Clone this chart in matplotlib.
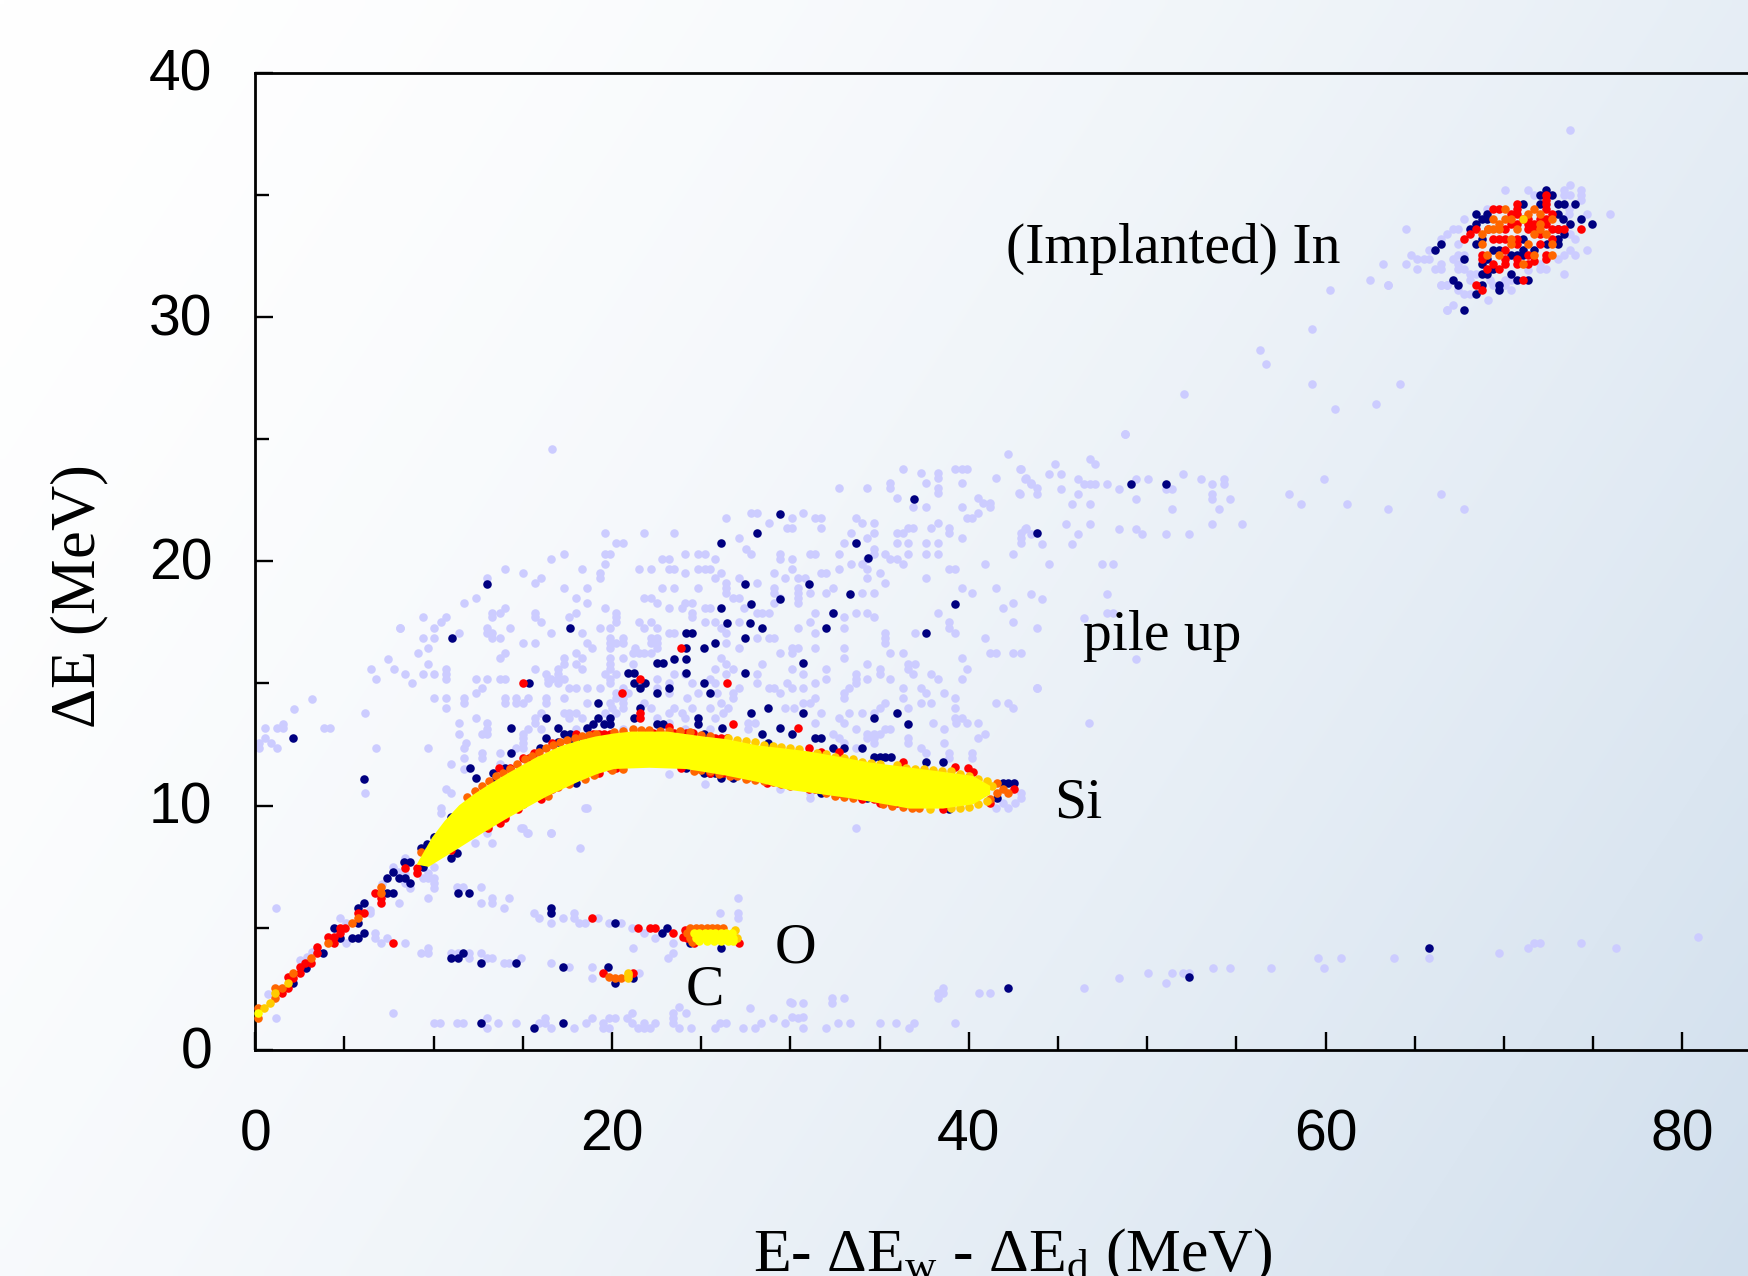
import numpy as np
import matplotlib
matplotlib.use("Agg")
from matplotlib import pyplot as plt
from matplotlib.transforms import ScaledTranslation

plt.rcParams["mathtext.fontset"] = "custom"
plt.rcParams["mathtext.rm"] = "Liberation Serif"
plt.rcParams["mathtext.default"] = "rm"

W, H = 1749, 1276
X0, Y0, Y40 = 255.2, 1050.0, 72.5
XMAX = (W - X0) / 17.84

# pale counts, big pile-up cloud: (dE, [E values])
cloud_rows = [
    (24.58, [16.63]), (24.4, [42.2]), (23.77, [36.3, 39.2, 39.6, 39.9, 42.9]), (23.6, [37.3, 38.3]),
    (23.4, [38.3, 41.5, 43.2]), (23.2, [35.6, 37.6, 39.6, 43.5]), (23.0, [32.7, 34.3, 35.6, 38.3, 43.8]),
    (22.8, [38.3, 42.8]), (22.6, [36.0, 40.5]), (22.4, [40.8, 41.2]), (22.2, [36.9, 37.6, 39.6, 41.2]),
    (21.96, [27.8, 28.1, 30.7, 40.5]), (21.75, [26.4, 30.1, 31.4, 31.7, 33.7, 39.9, 40.2]),
    (21.55, [28.8, 34.0, 34.7, 38.3]), (21.35, [29.8, 30.1, 31.7, 36.6, 36.9, 37.9, 38.9, 43.2]),
    (21.14, [19.6, 21.8, 23.5, 33.4, 34.7, 36.0, 36.3, 38.9, 42.9]), (20.94, [27.1, 34.3, 39.6, 42.9]),
    (20.73, [20.2, 20.6, 33.0, 33.7, 36.0, 36.6, 37.6, 38.3, 42.9]), (20.5, [27.5, 34.7]),
    (20.3, [17.3, 19.6, 19.9, 24.1, 24.8, 25.2, 27.8, 29.4, 31.1, 31.4, 32.7, 34.7, 35.3, 36.6, 37.6, 38.3, 42.5]),
    (20.1, [16.6, 22.8, 23.2, 25.8, 29.4, 30.1, 34.3, 36.0, 35.6]), (19.9, [19.6, 33.4, 34.0, 36.3, 40.9]),
    (19.7, [14.0, 18.3, 21.5, 22.2, 23.2, 23.5, 24.8, 25.2, 25.5, 30.1, 32.7, 34.3, 39.2, 38.9]),
    (19.5, [15.0, 19.3, 24.1, 26.1, 29.1, 31.7, 32.0, 35.0]),
    (19.3, [13.0, 16.0, 19.3, 25.8, 27.1, 29.7, 30.4, 30.8, 34.3, 37.6]), (19.1, [15.7, 26.4, 28.1, 35.3]),
    (18.9, [17.3, 18.6, 22.8, 23.5, 24.8, 26.4, 29.1, 30.4, 32.4, 39.6, 41.5]),
    (18.7, [26.4, 29.1, 30.4, 31.1, 32.0, 34.0, 34.7, 40.2]),
    (18.5, [12.4, 18.0, 22.2, 21.8, 26.8, 27.1, 29.4, 30.4]),
    (18.3, [11.7, 18.6, 22.5, 24.1, 24.5, 29.1, 30.4, 42.5]),
    (18.1, [14.0, 19.6, 23.2, 23.9, 25.2, 25.5, 27.4, 41.9]),
    (17.9, [13.3, 13.7, 15.7, 18.0, 20.2, 24.5, 31.4, 32.4, 33.7, 34.3, 38.3, 28.1, 28.4, 28.8]),
    (17.7, [9.4, 10.7, 13.3, 15.7, 17.6, 20.2, 24.5, 33.0, 34.7]),
    (17.5, [10.4, 16.0, 20.2, 21.5, 22.2, 25.2, 25.8, 27.1, 31.1, 38.9, 42.5]),
    (17.25, [8.1, 10.0, 13.0, 14.3, 19.3, 19.9, 21.8, 22.5, 26.1, 30.4, 33.0, 38.9, 43.8]),
    (17.05, [11.4, 13.0, 13.3, 16.6, 18.3, 23.2, 23.5, 26.4, 31.4, 35.3, 37.0, 39.2]),
    (16.85, [9.4, 10.0, 13.3, 13.7, 22.2, 22.5, 19.9, 20.6, 28.1, 28.8, 29.1, 35.3, 40.9]),
    (16.65, [15.0, 15.7, 18.6, 19.9, 20.2, 20.6, 22.2, 22.5, 26.4, 35.3]),
    (16.45, [9.7, 18.9, 19.9, 21.3, 22.5, 27.1, 31.4, 33.0, 30.1, 30.4]),
    (16.25, [9.1, 14.0, 18.0, 21.2, 21.5, 21.8, 22.2, 29.4, 30.1, 35.6, 36.3, 41.2, 41.5, 42.5, 42.9]),
    (16.05, [13.7, 17.3, 18.3, 19.9, 20.6, 26.1, 33.0, 39.6]),
    (15.8, [9.7, 17.3, 18.0, 19.9, 21.2, 26.4, 28.4, 34.3, 36.6, 37.0]),
    (15.6, [10.7, 15.7, 17.0, 18.3, 19.9, 25.8, 26.8, 30.1, 32.0, 35.0, 36.6, 39.9]),
    (15.4, [8.4, 9.4, 10.0, 10.7, 16.3, 17.0, 19.6, 20.2, 23.5, 24.1, 26.4, 28.1, 30.7, 33.7, 35.0, 36.9, 37.9]),
    (15.2, [10.7, 12.4, 13.0, 13.7, 14.0, 16.4, 16.6, 17.0, 17.3, 19.9, 22.5, 25.5, 32.0, 33.7, 34.3, 35.6, 38.3, 39.6]),
    (15.0, [8.8, 16.4, 17.0, 19.9, 23.2, 24.5, 25.8, 28.1, 29.8, 31.4, 33.7]),
    (14.8, [12.7, 17.6, 18.0, 18.6, 19.3, 20.6, 22.5, 27.1, 28.8, 29.1, 30.1, 30.7, 33.3, 36.3, 37.3, 43.8]),
    (14.6, [12.4, 20.2, 20.9, 23.2, 24.8, 25.9, 26.8, 29.4, 33.0, 37.6, 38.6]),
    (14.4, [10.0, 10.7, 11.7, 14.0, 14.6, 15.3, 16.3, 17.3, 20.2, 20.6, 24.2, 26.8, 31.4, 33.0, 36.3, 39.2]),
    (14.2, [11.7, 14.0, 14.6, 15.0, 16.3, 18.6, 19.9, 20.6, 21.8, 26.1, 30.7, 31.1, 35.3, 37.3, 37.9, 41.5, 42.2]),
    (14.0, [10.7, 20.0, 20.6, 22.2, 23.5, 24.5, 25.5, 26.5, 29.7, 30.2, 35.0, 36.6, 39.2, 42.5]),
    (13.8, [16.0, 17.3, 17.6, 18.0, 19.6, 20.2, 23.2, 23.9, 26.2, 31.7, 33.3, 34.0, 34.7]),
    (13.6, [12.4, 15.7, 17.6, 18.3, 22.5, 24.1, 25.8, 32.7, 39.6, 39.2]),
    (13.4, [11.4, 13.0, 15.7, 19.6, 23.2, 27.6, 28.0, 31.4, 33.0, 38.0, 39.3, 39.9, 40.5]),
    (13.15, [13.0, 15.3, 16.0, 18.0, 18.6, 20.6, 24.1, 25.5, 27.6, 33.7, 35.3, 35.6, 38.6]),
    (12.95, [11.4, 12.7, 13.0, 15.0, 32.4, 34.3, 34.7, 35.0, 40.9]), (12.75, [15.0, 32.7, 34.3, 34.7, 36.6, 40.5]),
    (12.55, [11.8, 15.0, 33.0, 34.7, 36.6, 38.6]), (12.35, [9.7, 11.7, 14.6, 15.0, 33.7, 37.3]),
    (12.15, [12.7, 13.7, 37.6, 38.9, 40.2]), (11.95, [11.7, 12.7, 38.9, 40.2]), (11.7, [11.0, 13.7]),
    (11.5, [11.7]), (11.3, [23.2]), (10.9, [25.2]), (10.7, [10.7, 29.4]), (10.5, [11.0, 31.1, 42.9]),
    (10.3, [31.1, 42.9]), (10.1, [41.9, 42.6]), (9.9, [18.6, 10.4, 41.5, 42.2]), (9.7, [10.4]), (9.1, [15.0, 33.7]), (8.9, [15.3, 16.6]),
]

# pale counts, the far side of the cloud and the stragglers towards In
cloud_right = [
    (48.76, 25.2), (42.87, 23.77), (44.81, 23.98), (46.8, 24.18), (47.1, 23.98), (44.5, 23.58), (45.15, 23.58),
    (43.15, 23.38), (43.5, 23.17), (46.1, 23.38), (46.46, 23.17), (46.8, 23.17), (47.1, 23.17), (47.77, 23.17),
    (48.42, 22.97), (49.4, 23.38), (50.07, 23.38), (51.04, 22.97), (51.4, 22.97), (52.0, 23.58), (53.0, 23.38),
    (53.65, 23.17), (54.33, 23.38), (54.33, 23.17), (59.9, 23.38), (57.94, 22.76), (58.6, 22.36), (61.2, 22.36),
    (63.5, 22.15), (66.46, 22.76), (67.77, 22.15), (42.87, 22.76), (43.8, 22.76), (45.15, 22.97), (46.1, 22.76),
    (45.8, 22.36), (46.8, 22.36), (49.4, 22.56), (51.4, 22.15), (53.65, 22.76), (53.65, 22.56), (54.65, 22.56),
    (54.0, 22.15), (45.47, 21.54), (46.8, 21.54), (48.42, 21.33), (49.4, 21.33), (49.73, 21.13), (51.04, 21.13),
    (52.37, 21.13), (53.65, 21.54), (55.3, 21.54), (43.15, 21.33), (43.5, 21.13), (46.1, 21.13), (44.12, 20.72),
    (45.8, 20.72), (44.5, 19.9), (47.45, 19.9), (48.08, 19.9), (43.5, 18.67), (44.12, 18.47), (47.77, 18.67),
    (47.77, 17.87), (48.08, 17.87), (46.46, 17.66), (43.8, 14.8), (46.75, 13.4), (49.4, 16.0),
    (60.25, 31.1), (59.24, 29.5), (56.3, 28.66), (56.64, 28.08), (59.24, 27.24), (64.16, 27.24), (62.85, 26.42),
    (60.55, 26.23), (52.05, 26.83), (48.74, 25.2), (63.5, 31.32), (62.5, 31.5),
]

# pale counts, left edge
cloud_left = [
    (8.1, 17.25), (7.46, 16.02), (6.47, 15.61), (7.78, 15.61), (6.79, 15.2), (3.2, 14.38), (2.2, 13.97), (6.17, 13.77),
    (1.55, 13.36), (0.56, 13.16), (1.2, 13.16), (1.55, 13.16), (3.85, 13.16), (4.19, 13.16), (0.56, 12.75), (0.88, 12.55),
    (0.22, 12.55), (0.22, 12.34), (1.2, 12.34), (6.79, 12.34), (6.17, 10.5),
]

# pale counts, below the Si band: diagonal, O and C streaks, bottom row
pale_low = [
    (18.5, 9.9), (18.2, 8.25), (14.9, 9.1), (15.25, 8.87), (16.6, 8.87), (12.3, 8.46), (12.97, 8.87), (13.3, 8.46),
    (8.37, 7.87), (7.7, 7.48), (10.0, 7.48), (9.7, 7.26), (9.4, 7.05), (9.7, 7.05), (10.0, 7.05), (10.0, 6.85), (10.0, 6.62),
    (8.4, 6.82), (8.7, 6.62), (8.05, 6.03), (9.67, 6.22), (11.3, 6.66), (11.67, 6.66), (12.65, 6.66), (12.65, 6.03),
    (13.3, 6.22), (13.3, 6.03), (14.25, 6.22), (13.93, 5.83), (1.14, 5.83), (4.76, 5.4), (5.1, 5.18), (6.45, 5.6),
    (6.7, 4.77), (6.7, 4.6), (7.07, 4.39), (7.4, 4.6), (8.37, 4.39), (5.1, 4.39), (9.67, 4.19), (9.3, 3.98), (9.67, 3.98),
    (11.0, 3.98), (11.35, 3.98), (12.0, 3.98), (12.0, 3.78), (12.65, 3.98), (12.97, 3.78), (13.3, 3.78), (13.93, 3.57),
    (14.25, 3.57), (14.9, 3.78), (16.58, 3.57), (17.6, 3.38), (18.88, 3.38), (18.88, 2.96), (21.5, 3.16),
    (15.6, 5.62), (15.92, 5.4), (17.24, 5.4), (17.88, 5.62), (17.88, 5.4), (18.16, 5.18), (18.5, 5.18), (19.2, 5.4),
    (19.82, 5.18), (20.5, 5.18), (21.1, 5.0), (21.8, 4.8), (22.42, 4.6), (23.44, 4.39), (21.16, 4.19), (23.44, 3.98),
    (23.14, 3.78), (27.07, 6.22), (26.07, 5.62), (27.07, 5.62), (27.07, 5.4), (16.58, 5.18),
    (0.7, 2.3), (2.9, 3.82), (3.2, 4.02), (6.43, 5.73), (8.0, 7.3), (8.4, 7.2), (7.1, 6.8), (2.5, 3.7),
    (7.7, 1.53), (1.14, 1.32), (10.0, 1.12), (10.35, 1.12), (11.3, 1.12), (11.67, 1.12), (12.97, 1.32), (12.97, 0.91),
    (13.6, 1.12), (14.6, 1.12), (15.9, 1.12), (16.24, 1.32), (16.24, 1.12), (16.58, 0.91), (17.86, 0.91), (18.52, 1.12),
    (18.88, 1.32), (19.52, 1.12), (19.82, 1.32), (20.16, 1.32), (19.52, 0.91), (19.82, 0.91), (20.82, 1.32), (21.12, 1.12),
    (21.12, 1.53), (21.48, 0.91), (21.82, 1.12), (21.82, 0.91), (22.12, 0.91), (22.42, 1.12), (23.44, 1.53), (23.44, 1.32),
    (23.44, 1.12), (23.76, 1.77), (24.12, 1.53), (23.76, 0.91), (24.42, 0.91), (25.77, 0.91), (26.07, 1.12), (26.4, 1.12),
    (27.37, 0.91), (28.0, 0.91), (28.37, 1.12), (27.73, 1.73), (29.03, 1.32), (29.7, 1.12), (30.0, 1.98), (30.4, 1.32),
    (30.07, 1.94), (30.71, 1.94), (32.35, 2.14), (32.35, 1.94), (33.0, 2.14), (30.07, 1.33), (30.71, 1.33), (30.71, 0.92),
    (32.0, 0.92), (32.69, 1.12), (33.33, 1.12), (35.0, 1.12), (35.94, 1.12), (36.62, 0.92), (36.95, 1.12), (39.25, 1.12),
    (38.26, 2.35), (38.26, 2.14), (38.58, 2.55), (38.58, 2.35), (40.56, 2.35), (41.2, 2.35), (46.44, 2.55), (48.42, 2.96),
    (50.05, 3.17), (51.04, 2.76), (51.39, 3.17), (52.03, 3.17), (52.36, 3.17), (53.67, 3.37), (54.66, 3.37), (56.93, 3.37),
    (59.59, 3.77), (59.91, 3.37), (60.87, 3.77), (63.82, 3.77), (65.77, 3.77), (69.74, 3.97), (71.37, 4.17), (71.69, 4.39),
    (72.04, 4.39), (74.32, 4.39), (76.3, 4.17), (80.9, 4.61),
]

# pale counts around the In blob
pale_in = [
    (73.7, 37.65), (70.06, 35.2), (71.37, 35.2), (73.37, 35.2), (73.69, 35.4), (74.3, 35.2), (74.3, 35.0), (73.69, 35.0),
    (73.37, 35.0), (74.3, 34.8), (71.7, 35.0), (69.03, 34.4), (74.64, 34.2), (75.95, 34.2), (67.78, 34.0), (73.67, 34.2),
    (73.67, 34.4), (67.12, 33.6), (67.44, 33.6), (64.5, 33.6), (66.79, 33.4), (66.47, 33.2), (73.7, 33.4), (74.0, 33.2),
    (65.8, 32.75), (67.44, 33.0), (64.8, 32.55), (65.1, 32.35), (65.5, 32.35), (65.8, 32.35), (67.44, 32.55), (67.78, 32.55),
    (67.12, 32.35), (73.7, 32.75), (74.0, 32.55), (74.64, 32.75), (73.37, 32.55), (73.05, 32.35), (63.2, 32.15), (64.5, 32.15),
    (66.45, 32.15), (67.44, 32.15), (65.1, 31.95), (66.13, 31.95), (66.47, 31.95), (67.44, 31.95), (67.78, 31.95), (72.02, 32.15),
    (72.02, 31.95), (72.36, 31.95), (73.37, 31.75), (68.1, 31.75), (68.43, 31.75), (68.1, 31.5), (66.47, 31.3), (66.79, 31.3),
    (67.44, 31.1), (67.78, 30.95), (68.1, 30.95), (63.5, 31.3), (69.09, 30.7), (70.06, 31.3), (70.38, 31.1), (67.12, 30.5),
    (66.79, 30.3), (69.2, 31.5), (69.4, 31.3), (70.06, 31.5), (70.38, 31.5), (71.37, 31.9),
    (66.46, 31.32), (66.78, 31.32), (66.78, 30.3),
]

navy_main = [
    (29.42, 21.93), (36.95, 22.56), (43.8, 21.14), (28.1, 21.14), (26.13, 20.73), (33.68, 20.73), (34.34, 20.12), (13.02, 19.07),
    (27.43, 19.07), (31.05, 19.07), (33.34, 18.67), (29.42, 18.47), (27.78, 18.27), (39.24, 18.27), (26.13, 18.07), (32.38, 17.87),
    (26.43, 17.46), (27.75, 17.46), (28.42, 17.25), (32.0, 17.25), (17.62, 17.25), (11.05, 16.86), (24.16, 17.05), (24.5, 17.05),
    (37.6, 17.05), (27.43, 16.86), (25.8, 16.64), (24.16, 16.43), (25.14, 16.43), (23.5, 16.02), (24.16, 16.02), (22.54, 15.82),
    (22.86, 15.82), (30.73, 15.82), (24.16, 15.41), (27.43, 15.41), (20.89, 15.41), (21.23, 15.41), (21.23, 15.0), (21.87, 15.0),
    (21.55, 14.8), (15.35, 15.0), (25.14, 15.0), (23.18, 14.8), (22.51, 14.6), (25.47, 14.6), (19.24, 14.18), (21.55, 13.98),
    (28.76, 13.98), (27.78, 13.77), (30.73, 13.77), (34.66, 13.57), (35.97, 13.77), (36.61, 13.36), (16.29, 13.57), (19.24, 13.57),
    (19.9, 13.57), (21.23, 13.57), (24.82, 13.57), (22.54, 13.36), (22.86, 13.36), (19.9, 13.36), (19.56, 13.36), (18.92, 13.36),
    (24.82, 13.36), (14.32, 13.16), (16.98, 13.16), (18.6, 13.16), (26.15, 13.16), (29.42, 13.16), (17.32, 12.95), (17.64, 12.95),
    (30.09, 12.95), (28.42, 12.95), (25.17, 12.95), (16.29, 12.75), (31.4, 12.75), (31.7, 12.75), (17.0, 12.6), (17.64, 12.6),
    (17.96, 12.6), (28.76, 12.57), (15.99, 12.37), (32.38, 12.37), (33.02, 12.37), (34.0, 12.37), (14.32, 12.14), (34.66, 11.97),
    (35.0, 11.97), (35.3, 11.97), (35.63, 11.97), (37.6, 11.77), (38.58, 11.77), (12.03, 11.52), (13.34, 11.35), (12.35, 11.14),
    (13.34, 10.98), (14.0, 11.52), (24.14, 11.52), (25.14, 11.35), (25.47, 11.35), (25.8, 11.35), (26.13, 11.11), (26.77, 11.11),
    (17.96, 10.91), (31.71, 10.5), (34.0, 10.3), (34.32, 10.3), (41.9, 10.91), (42.2, 10.91), (42.56, 10.91), (41.6, 10.3),
    (38.9, 9.88), (12.0, 10.16), (11.0, 9.55), (10.06, 8.73), (49.1, 23.17), (51.06, 23.17), (2.14, 12.76), (6.09, 11.1),
]
navy_low = [
    (9.3, 8.25), (9.65, 8.45), (10.0, 8.7), (8.35, 7.68), (8.7, 7.68), (7.7, 7.27), (7.4, 7.05), (8.05, 7.05), (8.37, 7.05),
    (8.7, 6.85), (9.4, 7.48), (11.3, 8.08), (11.0, 7.85), (11.35, 6.44), (12.0, 6.44), (7.4, 6.44), (7.7, 6.44), (6.09, 6.03),
    (5.77, 5.83), (5.77, 5.18), (4.42, 5.0), (4.78, 4.6), (5.43, 4.6), (5.77, 4.6), (6.09, 4.8), (3.8, 3.98), (2.82, 3.34),
    (2.14, 2.73), (16.58, 5.83), (16.58, 5.6), (20.16, 5.18), (22.82, 4.8), (23.1, 5.0), (24.4, 4.37), (26.1, 4.16), (11.0, 3.78),
    (11.35, 3.78), (11.67, 3.98), (12.65, 3.57), (14.6, 3.57), (17.26, 3.38), (19.8, 3.38), (20.16, 2.73), (21.2, 2.93),
    (12.65, 1.12), (15.6, 0.91), (17.26, 1.12), (42.19, 2.55), (52.37, 2.98), (65.77, 4.17),
]
navy_in = [
    (72.38, 35.2), (72.02, 35.0), (72.71, 35.0), (71.09, 34.6), (72.02, 34.6), (73.0, 34.6), (73.37, 34.6), (73.98, 34.6),
    (68.41, 34.2), (69.07, 34.2), (68.75, 34.0), (69.07, 34.0), (73.05, 34.2), (73.33, 34.0), (74.32, 34.0), (74.96, 33.8),
    (73.7, 33.8), (68.41, 33.8), (68.1, 33.6), (73.05, 33.6), (73.37, 33.4), (66.45, 33.0), (66.13, 32.75), (68.41, 33.0),
    (68.75, 33.2), (71.09, 33.2), (73.05, 33.2), (73.05, 33.0), (72.4, 33.0), (69.4, 32.75), (69.72, 32.75), (71.09, 32.75),
    (71.7, 32.75), (70.38, 32.55), (70.71, 32.55), (71.09, 32.55), (67.78, 32.35), (69.07, 32.35), (68.75, 32.15), (70.38, 31.75),
    (68.75, 31.75), (69.07, 31.75), (67.12, 31.5), (67.44, 31.3), (70.71, 31.5), (71.37, 31.5), (68.75, 31.3), (69.74, 31.3),
    (69.74, 31.1), (68.41, 30.95), (67.78, 30.3), (69.4, 31.95),
]

red_main = [
    (14.99, 15.0), (21.55, 15.2), (20.55, 14.6), (23.84, 16.43), (26.43, 15.0), (21.55, 13.77), (21.55, 13.57), (26.77, 13.36),
    (30.41, 13.16), (17.96, 12.95), (13.68, 11.52), (14.3, 11.52), (14.99, 11.93), (15.33, 11.93), (15.6, 12.14), (16.63, 12.57),
    (18.6, 12.78), (18.92, 12.95), (19.26, 12.95), (19.56, 12.95), (19.9, 12.95), (21.85, 12.98), (22.3, 12.98), (23.18, 13.2),
    (23.5, 12.98), (24.14, 12.98), (24.53, 12.98), (25.8, 12.78), (26.13, 12.78), (26.43, 12.78), (31.07, 12.37), (31.73, 12.18),
    (32.72, 12.18), (36.33, 11.77), (39.24, 11.58), (39.93, 11.52), (40.25, 11.39), (13.04, 9.07), (13.73, 9.27), (14.0, 9.48),
    (14.71, 9.88), (16.0, 10.29), (16.63, 10.68), (19.26, 11.32), (19.9, 11.52), (20.25, 11.52), (23.84, 11.52), (25.5, 11.32),
    (26.2, 11.32), (27.57, 11.11), (28.03, 11.11), (28.71, 10.91), (31.07, 10.7), (31.4, 10.7), (32.72, 10.5), (33.06, 10.5),
    (34.0, 10.29), (34.66, 10.29), (35.0, 10.09), (35.63, 10.09), (35.97, 10.09), (38.58, 9.88), (41.2, 10.09), (42.54, 10.7),
]
red_low = [
    (7.7, 4.39), (18.88, 5.4), (21.48, 5.0), (22.12, 5.0), (22.42, 5.0), (23.44, 4.8), (24.0, 4.64), (27.13, 4.37),
    (24.1, 4.9), (24.2, 4.6), (24.6, 4.37), (19.52, 3.16), (21.2, 3.16), (1.5, 2.32), (1.84, 2.52), (1.84, 2.97), (2.14, 2.95),
    (2.5, 3.38), (2.5, 3.16), (2.8, 3.57), (3.14, 3.55), (3.46, 4.2), (3.46, 3.98), (4.1, 4.61), (4.42, 4.61), (4.42, 4.39),
    (4.74, 4.98), (4.74, 4.77), (5.06, 4.98), (5.77, 5.62), (6.09, 5.62), (6.7, 6.44), (7.07, 6.2), (7.07, 6.0), (8.37, 7.46),
    (9.05, 7.44), (9.05, 7.26), (11.0, 8.2),
]
red_in = [
    (72.38, 35.0), (72.38, 34.8), (72.38, 34.6), (70.71, 34.6), (72.38, 34.4), (72.68, 34.2), (69.4, 34.4), (69.74, 34.4),
    (70.38, 34.2), (70.71, 34.4), (70.71, 34.2), (71.37, 34.0), (72.02, 34.0), (72.36, 34.0), (71.09, 34.0), (74.32, 33.6),
    (67.78, 33.2), (68.1, 33.4), (68.41, 33.6), (69.1, 33.6), (70.06, 33.6), (70.38, 33.8), (70.71, 33.8), (71.37, 33.8),
    (71.7, 33.8), (72.36, 33.8), (72.68, 33.6), (73.05, 33.6), (73.37, 33.6), (69.4, 33.2), (69.74, 33.2), (70.06, 33.2),
    (70.71, 33.2), (71.37, 33.6), (71.7, 33.6), (72.02, 33.4), (72.68, 33.2), (72.02, 33.0), (70.06, 32.75), (70.71, 33.0),
    (68.75, 32.55), (68.75, 32.35), (69.4, 32.15), (69.74, 31.95), (69.07, 31.95), (70.06, 32.35), (70.06, 32.15), (70.71, 32.35),
    (70.71, 32.15), (71.37, 32.55), (71.7, 32.3), (72.36, 32.55), (72.36, 32.35), (71.37, 32.15), (71.05, 31.5), (68.41, 31.3),
    (68.75, 31.1),
]

orange_pts = [
    (0.16, 1.7), (0.16, 1.3), (1.12, 2.11), (1.12, 2.52), (1.5, 2.52), (2.14, 3.16), (3.14, 3.78), (4.1, 4.39), (5.43, 5.18),
    (5.77, 5.4), (7.07, 6.66), (7.07, 6.44), (9.3, 8.12), (19.84, 3.0), (20.18, 2.96), (20.52, 2.96),
    (24.4, 5.0), (24.7, 5.0), (25.0, 5.0), (25.3, 5.0), (25.6, 5.0), (25.9, 5.0), (26.2, 5.0), (24.2, 4.8), (24.4, 4.6), (24.5, 4.4),
    (41.6, 10.91), (41.9, 10.7), (41.6, 10.5), (42.2, 10.5), (41.2, 10.29),
    (70.06, 34.4), (71.7, 34.4), (71.37, 34.2), (72.02, 34.2), (72.68, 34.0), (69.4, 34.0), (70.06, 34.0), (70.38, 34.0),
    (69.74, 33.8), (69.4, 33.6), (69.1, 33.6), (68.75, 33.4), (69.74, 33.6), (70.71, 33.6), (72.02, 33.8), (72.36, 33.4),
    (71.7, 33.4), (70.38, 33.2), (70.38, 33.0), (71.37, 33.0), (72.68, 33.0), (68.75, 33.0), (69.07, 32.55), (69.74, 32.55),
    (71.7, 32.55), (72.68, 32.55), (71.05, 32.15), (72.02, 33.6),
]
# orange rim of the Si band
orange_rim = [
    (11.9, 10.35), (12.3, 10.6), (12.7, 10.8), (13.1, 11.0), (13.5, 11.2), (13.9, 11.35), (14.3, 11.5), (14.7, 11.7),
    (15.1, 11.9), (15.5, 12.05), (15.9, 12.2), (16.3, 12.35), (16.7, 12.5), (17.1, 12.6), (17.5, 12.7), (17.9, 12.75),
    (18.3, 12.85), (18.7, 12.9), (19.1, 12.95), (20.1, 13.0), (20.6, 13.05), (21.2, 13.15), (21.6, 13.1), (22.1, 13.1),
    (22.7, 13.05), (23.2, 13.05), (23.8, 13.05), (24.4, 13.0), (25.0, 12.9), (25.5, 12.85),
    (13.0, 9.15), (13.4, 9.4), (14.0, 9.65), (15.0, 10.05), (16.4, 10.4), (17.0, 10.75), (17.6, 10.9), (18.5, 11.1),
    (19.0, 11.25), (20.0, 11.45), (20.6, 11.5), (24.6, 11.4), (25.0, 11.45), (25.5, 11.4), (26.0, 11.3), (26.6, 11.2),
    (27.0, 11.2), (27.5, 11.1), (28.0, 11.05), (28.5, 11.0), (29.0, 10.95), (29.5, 10.9), (30.0, 10.8), (32.0, 10.5),
    (32.5, 10.4), (33.0, 10.35), (33.5, 10.3), (35.2, 10.05), (35.7, 10.0), (36.3, 9.95), (36.8, 9.9), (37.2, 9.9),
]
gold_pts = [
    (0.5, 1.7), (0.84, 1.94), (1.12, 2.32), (1.84, 2.73), (20.88, 3.16), (20.88, 2.96), (20.88, 3.07), (27.0, 4.6),
    (26.9, 4.9), (71.09, 34.0),
]
gold_rim = [
    (26.5, 12.75), (27.0, 12.7), (27.5, 12.65), (28.0, 12.6), (28.5, 12.5), (29.0, 12.45), (29.5, 12.4), (30.0, 12.35),
    (30.5, 12.3), (31.5, 12.15), (32.0, 12.1), (32.5, 12.0), (33.0, 11.95), (33.5, 11.9), (34.0, 11.8), (34.5, 11.75),
    (35.0, 11.7), (36.0, 11.65), (36.5, 11.55), (37.0, 11.5), (37.5, 11.5), (38.0, 11.45), (38.5, 11.4), (39.0, 11.4),
    (39.5, 11.3), (40.0, 11.2), (40.5, 11.1), (41.0, 11.0), (41.3, 10.8), (37.8, 9.85), (39.0, 9.9), (39.5, 9.9),
    (40.0, 9.95), (40.5, 10.05), (41.0, 10.2),
]
yellow_pts = [
    (0.16, 1.5), (24.6, 4.8), (24.9, 4.8), (25.2, 4.8), (25.5, 4.8), (25.8, 4.8), (26.1, 4.8), (26.4, 4.8), (26.7, 4.8),
    (24.7, 4.6), (25.0, 4.6), (25.3, 4.6), (25.6, 4.6), (25.9, 4.6), (26.2, 4.6), (26.5, 4.6), (26.8, 4.6),
    (24.9, 4.45), (25.3, 4.45), (25.7, 4.45), (26.1, 4.45), (26.5, 4.45), (26.8, 4.45),
]

# Si band edges
band_top_x = [9.2, 10.0, 10.7, 11.5, 12.3, 13.1, 14.3, 15.7, 17.1, 18.1, 19.1, 20.1, 21.1, 23.1, 25.1, 26.4, 28.1, 31.0, 34.4, 37.6, 40.2, 41.1]
band_top_y = [7.64, 8.66, 9.33, 9.96, 10.4, 10.78, 11.3, 11.87, 12.35, 12.58, 12.76, 12.88, 12.96, 12.96, 12.76, 12.65, 12.4, 12.15, 11.7, 11.4, 11.15, 10.77]
band_bot_x = [9.7, 11.1, 12.7, 14.1, 16.3, 18.1, 19.1, 20.1, 22.1, 24.1, 25.1, 26.4, 28.1, 29.9, 33.3, 36.7, 38.55, 40.2, 41.1]
band_bot_y = [7.57, 8.2, 8.94, 9.55, 10.44, 11.05, 11.35, 11.57, 11.62, 11.57, 11.46, 11.3, 11.05, 10.72, 10.38, 9.95, 9.95, 10.12, 10.5]

x_major = [0, 20, 40, 60, 80]
x_minor = [5, 10, 15, 25, 30, 35, 45, 50, 55, 65, 70, 75]
y_major = [0, 10, 20, 30, 40]
y_minor = [5, 15, 25, 35]
labels = [("(Implanted) In", 42.1, 32.2), ("pile up", 46.4, 16.35), ("Si", 44.8, 9.5), ("O", 29.1, 3.6), ("C", 24.1, 1.85)]


def cols(pts):
    return [p[0] for p in pts], [p[1] for p in pts]


fig = plt.figure(figsize=(W / 100, H / 100), dpi=100)

# background wash, white top left to pale blue bottom right
bg = fig.add_axes([0, 0, 1, 1]); bg.axis("off")
gx, gy = np.meshgrid(np.linspace(0, 1, 200), np.linspace(0, 1, 150))
t = ((gx * 0.68 + gy * 0.32) ** 1.6)[..., None]
bg.imshow(np.array([1.0, 1.0, 1.0]) * (1 - t) + np.array([0.82, 0.875, 0.93]) * t, aspect="auto", interpolation="bilinear")

ax = fig.add_axes([X0 / W, 1 - Y0 / H, 1 - X0 / W, (Y0 - Y40) / H], facecolor="none")
ax.set_xlim(0, XMAX); ax.set_ylim(0, 40)

dot = dict(s=38, linewidths=0, clip_on=False)
cloud_pts = [(x, y) for y, xs in cloud_rows for x in xs]
ax.scatter(*cols(cloud_pts + cloud_right + cloud_left + pale_low + pale_in), color="#ccccff", zorder=2, **dot)
ax.scatter(*cols(navy_main + navy_low + navy_in), color="#000080", zorder=3, **dot)
ax.scatter(*cols(red_main + red_low + red_in), color="#ff0000", zorder=4, **dot)
ax.scatter(*cols(orange_pts + orange_rim), color="#ff6600", zorder=5, **dot)
ax.scatter(*cols(gold_pts + gold_rim), color="#ffcc00", zorder=6, **dot)
ax.scatter(*cols(yellow_pts), color="#ffff00", zorder=7, **dot)

ax.fill(band_top_x + band_bot_x[::-1], band_top_y + band_bot_y[::-1], fc="#ffff00", ec="#ffff00", lw=2.5, zorder=7)

for s in ["left", "bottom", "top"]:
    ax.spines[s].set_linewidth(2.0)
ax.spines["right"].set_visible(False)
ax.set_xticks(x_major); ax.set_yticks(y_major)
ax.set_xticks(x_minor, minor=True); ax.set_yticks(y_minor, minor=True)
ax.tick_params(which="major", direction="in", length=13, width=1.7, top=False, right=False)
ax.tick_params(which="minor", direction="in", length=10, width=1.7, top=False, right=False)
ax.tick_params(axis="x", which="major", pad=42)
ax.tick_params(axis="y", which="major", pad=31)
for lab in ax.get_xticklabels() + ax.get_yticklabels():
    lab.set_fontfamily("Liberation Sans"); lab.set_fontsize(41)
# nudge the y numbers up a touch, they sit just above the ticks
nudge = ScaledTranslation(0, 2 / 72, fig.dpi_scale_trans)
for tk in ax.yaxis.get_major_ticks():
    tk.label1.set_transform(tk.label1.get_transform() + nudge)

for txt, x, y in labels:
    ax.text(x, y, txt, family="Liberation Serif", fontsize=41.5, ha="left", va="baseline", zorder=8)

fig.text(753 / W, 1 - 1271 / H, r"E- $\Delta$E$_{\mathrm{w}}$ - $\Delta$E$_{\mathrm{d}}$ (MeV)",
         family="Liberation Serif", fontsize=44.5, ha="left", va="baseline")
fig.text(80 / W, 1 - 597 / H, r"$\Delta$E (MeV)", family="Liberation Serif", fontsize=45,
         rotation=90, ha="center", va="center")

fig.savefig("out.png", dpi=100)
